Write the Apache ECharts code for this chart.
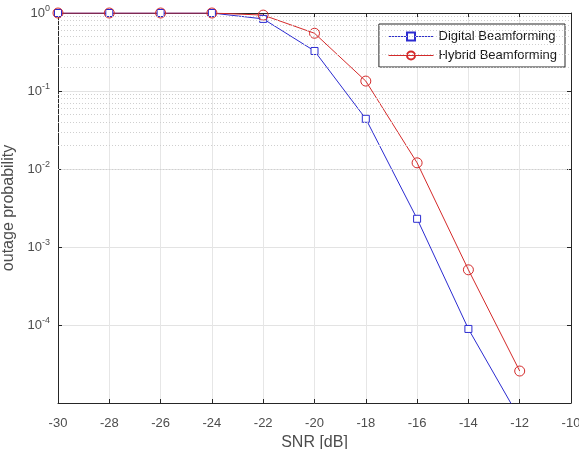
<!DOCTYPE html>
<html>
<head>
<meta charset="utf-8">
<script src="https://cdn.jsdelivr.net/npm/echarts@6/dist/echarts.min.js"></script>
<style>
  html, body { margin: 0; padding: 0; background: #fff; }
  #chart { width: 579px; height: 449px; }
</style>
</head>
<body>
<div id="chart"></div>
<script>
const snr = [-30, -28, -26, -24, -22, -20, -18, -16, -14, -12];
const digital = [1, 1, 1, 1, 0.84, 0.326, 0.044, 0.0023, 0.000089, 0.0000063];
const hybrid = [1, 1, 1, 1, 0.94, 0.55, 0.134, 0.012, 0.00051, 0.0000257];
const yTickExps = [0, -1, -2, -3, -4];

// dotted minor grid at 2..9 x 10^k
const minorLevels = [];
for (let k = -5; k < 0; k++) {
  for (let m = 2; m <= 9; m++) minorLevels.push(m * Math.pow(10, k));
}

const axisColor = '#262626';
const labelColor = '#4d4d4d';
const font = 'Liberation Sans, Arial, sans-serif';

const chart = echarts.init(document.getElementById('chart'), null, { renderer: 'canvas' });
chart.setOption({
  animation: false,
  backgroundColor: '#fff',
  grid: { left: 58, right: 8, top: 13, bottom: 46, containLabel: false, outerBoundsMode: 'none' },
  legend: {
    orient: 'vertical',
    right: 14, top: 24,
    backgroundColor: '#fff',
    borderColor: '#262626', borderWidth: 1, borderRadius: 0,
    padding: [6, 8, 5, 9],
    itemGap: 6,
    itemWidth: 45, itemHeight: 10,
    lineStyle: { width: 1.2, type: 'solid' },
    textStyle: { color: '#1a1a1a', fontSize: 13, fontFamily: font },
    data: ['Digital Beamforming', 'Hybrid Beamforming']
  },
  xAxis: [{
    type: 'value', min: -30, max: -10, interval: 2,
    name: 'SNR [dB]', nameLocation: 'middle', nameGap: 31,
    nameTextStyle: { color: labelColor, fontSize: 16, fontFamily: font },
    axisLine: { onZero: false, lineStyle: { color: axisColor, width: 1 } },
    axisTick: { inside: true, length: 4, lineStyle: { color: axisColor } },
    axisLabel: { color: labelColor, fontSize: 13, fontFamily: font, margin: 14 },
    splitLine: { show: true, lineStyle: { color: '#e6e6e6', width: 1 } }
  }, {
    type: 'value', min: -30, max: -10, interval: 2, position: 'top',
    axisLine: { onZero: false, lineStyle: { color: axisColor, width: 1 } },
    axisTick: { inside: true, length: 4, lineStyle: { color: axisColor } },
    axisLabel: { show: false }, splitLine: { show: false }
  }],
  yAxis: [{
    type: 'log', logBase: 10, min: 1e-5, max: 1,
    name: 'outage probability', nameLocation: 'middle', nameGap: 36,
    nameTextStyle: { color: labelColor, fontSize: 16, fontFamily: font },
    axisLine: { onZero: false, lineStyle: { color: axisColor, width: 1 } },
    axisTick: { inside: true, length: 4, lineStyle: { color: axisColor } },
    axisLabel: {
      color: labelColor, fontSize: 13, fontFamily: font, margin: 8,
      formatter: function (v) {
        const e = Math.round(Math.log10(v));
        if (yTickExps.indexOf(e) < 0) return '';
        return '10{sup|' + e + '}';
      },
      rich: { sup: { fontSize: 9, color: labelColor, fontFamily: font, padding: [0, 0, 9, 0] } }
    },
    splitLine: { show: true, lineStyle: { color: '#e3e3e3', width: 1 } }
  }, {
    type: 'log', logBase: 10, min: 1e-5, max: 1, position: 'right',
    axisLine: { onZero: false, lineStyle: { color: axisColor, width: 1 } },
    axisTick: { inside: true, length: 4, lineStyle: { color: axisColor } },
    axisLabel: { show: false }, splitLine: { show: false }
  }],
  series: [{
    name: 'minor',
    type: 'line', data: [], silent: true,
    markLine: {
      silent: true, symbol: 'none', animation: false,
      label: { show: false },
      lineStyle: { color: '#cfcfcf', type: [1, 2], width: 1 },
      data: minorLevels.map(v => ({ yAxis: v }))
    }
  }, {
    name: 'Digital Beamforming',
    type: 'line',
    data: snr.map((x, i) => [x, digital[i]]),
    symbol: 'rect', symbolSize: 7,
    lineStyle: { color: '#2b2bd0', width: 1, type: 'solid' },
    itemStyle: { color: '#fff', borderColor: '#2b2bd0', borderWidth: 1 },
    z: 3
  }, {
    name: 'Hybrid Beamforming',
    type: 'line',
    data: snr.map((x, i) => [x, hybrid[i]]),
    symbol: 'circle', symbolSize: 10,
    lineStyle: { color: '#d42a2a', width: 1, type: 'solid' },
    itemStyle: { color: 'rgba(255,255,255,0)', borderColor: '#d42a2a', borderWidth: 1 },
    z: 3
  }]
});
</script>
</body>
</html>
